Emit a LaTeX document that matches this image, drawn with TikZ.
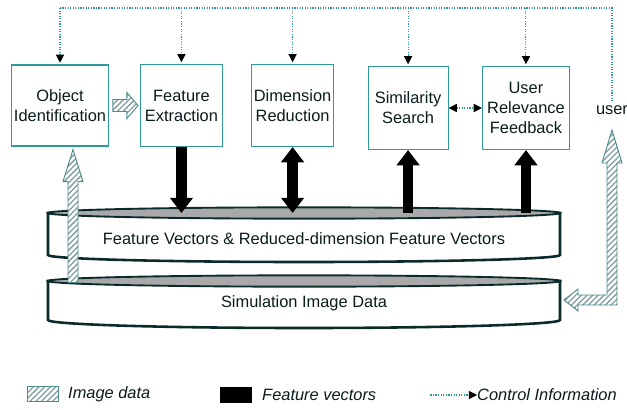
\documentclass[tikz,border=0pt]{standalone}
\usepackage{fontspec}
\setmainfont{Liberation Sans}
\usetikzlibrary{positioning,arrows.meta,calc,patterns.meta}
\definecolor{boxline}{HTML}{2E9A9A}
\definecolor{ink}{HTML}{0A1C1C}
\definecolor{cylline}{HTML}{0B2A2A}
\definecolor{lidgray}{HTML}{A9A9A9}
\definecolor{hatchc}{HTML}{7F9C9C}
\definecolor{hatchline}{HTML}{4E8C8C}
\definecolor{ctrlc}{HTML}{2A9A9A}
\tikzset{
  modbox/.style={draw=boxline, line width=0.9pt, fill=white, align=center,
              inner sep=2pt, text=ink, font=\fontsize{14}{17}\selectfont},
  cylwall/.style={draw=cylline, line width=2.2pt, fill=white},
  cyllid/.style={draw=cylline, line width=1.6pt, fill=lidgray},
  plaintext/.style={text=ink, font=\fontsize{14}{17}\selectfont},
  legtext/.style={text=ink, font=\fontsize{14}{17}\selectfont\itshape, inner sep=0pt},
  featarrow/.style={line width=9pt, draw=black},
  feattip/.tip={Triangle[length=13pt, width=19pt]},
  hatchfill/.style={draw=hatchline, line width=0.8pt, preaction={fill=white},
              pattern={Lines[angle=45,distance=3.4pt,line width=1.1pt]}, pattern color=hatchc},
  ctrl/.style={draw=ctrlc, line width=0.9pt, dash pattern=on 1pt off 1.2pt},
  ctrltip/.tip={Triangle[length=7pt, width=7pt, color=black]},
}
\begin{document}
\begin{tikzpicture}[x=0.03cm, y=-0.03cm]
\useasboundingbox (0,0) rectangle (627,409);

% processing modules
\node[modbox, minimum width=2.88cm, minimum height=2.43cm] (oi) at (60,105.5) {Object\\Identification};
\node[modbox, minimum width=2.46cm, minimum height=2.46cm, right=0.93cm of oi] (fe) {Feature\\Extraction};
\node[modbox, minimum width=2.43cm, minimum height=2.46cm, right=0.84cm of fe] (dr) {Dimension\\Reduction};
\node[modbox, minimum width=2.4cm, minimum height=2.49cm, right=1.0cm of dr, yshift=-0.075cm] (ss) {Similarity\\Search};
\node[modbox, minimum width=2.61cm, minimum height=2.49cm, right=1.0cm of ss] (urf) {User\\Relevance\\Feedback};
\node[plaintext] (user) at (612,110) {user};

% databases
\coordinate (fvtop) at (304,213);
\coordinate (sidtop) at (304,281);
\draw[cylwall] (48,213) -- (48,255) arc[start angle=180, end angle=360, x radius=7.68cm, y radius=0.21cm] -- (560,213) -- cycle;
\draw[cyllid] (fvtop) ellipse[x radius=7.68cm, y radius=0.17cm];
\node[plaintext] (fvec) at (304,239) {Feature Vectors \& Reduced-dimension Feature Vectors};
\draw[cylwall] (48,281) -- (48,320) arc[start angle=180, end angle=360, x radius=7.68cm, y radius=0.24cm] -- (560,281) -- cycle;
\draw[cyllid] (sidtop) ellipse[x radius=7.68cm, y radius=0.17cm];
\node[plaintext] (sid) at (304,303) {Simulation Image Data};

% control information
\coordinate (ctrltop) at (0,8);
\draw[ctrl] (user.north) |- (oi.north |- ctrltop);
\foreach \b in {oi,fe,dr,ss,urf}
  \draw[ctrl, -{ctrltip}, shorten >=1.5pt] (\b.north |- ctrltop) -- (\b.north);
\draw[ctrl, {ctrltip}-{ctrltip}] (ss.east) -- (urf.west);

% feature vectors
\draw[featarrow, -{feattip}] (fe.south) -- (fe.south |- fvtop);
\draw[featarrow, {feattip}-{feattip}] (dr.south) -- (dr.south |- fvtop);
\draw[featarrow, -{feattip}] (ss.south |- fvtop) -- (ss.south);
\draw[featarrow, -{feattip}] (urf.south |- fvtop) -- (urf.south);

% image data
\draw[hatchfill] ($(oi.east)+(4,-6)$) -- ++(14,0) -- ++(0,-7) -- ++(11,13) -- ++(-11,13) -- ++(0,-7) -- ++(-14,0) -- cycle;
\draw[hatchfill] ($(oi.south)+(13,3)$) -- ++(10,32) -- ++(-5,0) -- ++(0,101) -- ++(-10,0) -- ++(0,-101) -- ++(-5,0) -- cycle;
\coordinate (usertip) at ($(user)+(0,20)$);
\draw[hatchfill] (usertip) -- ++(10,33) -- ++(-5,0) -- (617,305) -- (578,305) -- (578,311) -- (564,300)
  -- (578,289) -- (578,295) -- (607,295) -- ($(usertip)+(-5,33)$) -- ++(-5,0) -- cycle;

% legend
\node[legtext, anchor=west] (lgimg) at (68,394) {Image data};
\node[hatchfill, minimum width=0.93cm, minimum height=0.45cm, inner sep=0pt, left=0.27cm of lgimg] (lgimgbox) {};
\node[legtext, anchor=west] (lgfeat) at (262,395) {Feature vectors};
\node[fill=black, minimum width=0.96cm, minimum height=0.48cm, inner sep=0pt, left=0.3cm of lgfeat] (lgfeatbox) {};
\node[legtext, anchor=west] (lgctrl) at (477,395) {Control Information};
\coordinate[left=1.4cm of lgctrl.west] (lgctrlstart);
\draw[ctrl, -{ctrltip}] (lgctrlstart) -- (lgctrl.west);
\end{tikzpicture}
\end{document}
